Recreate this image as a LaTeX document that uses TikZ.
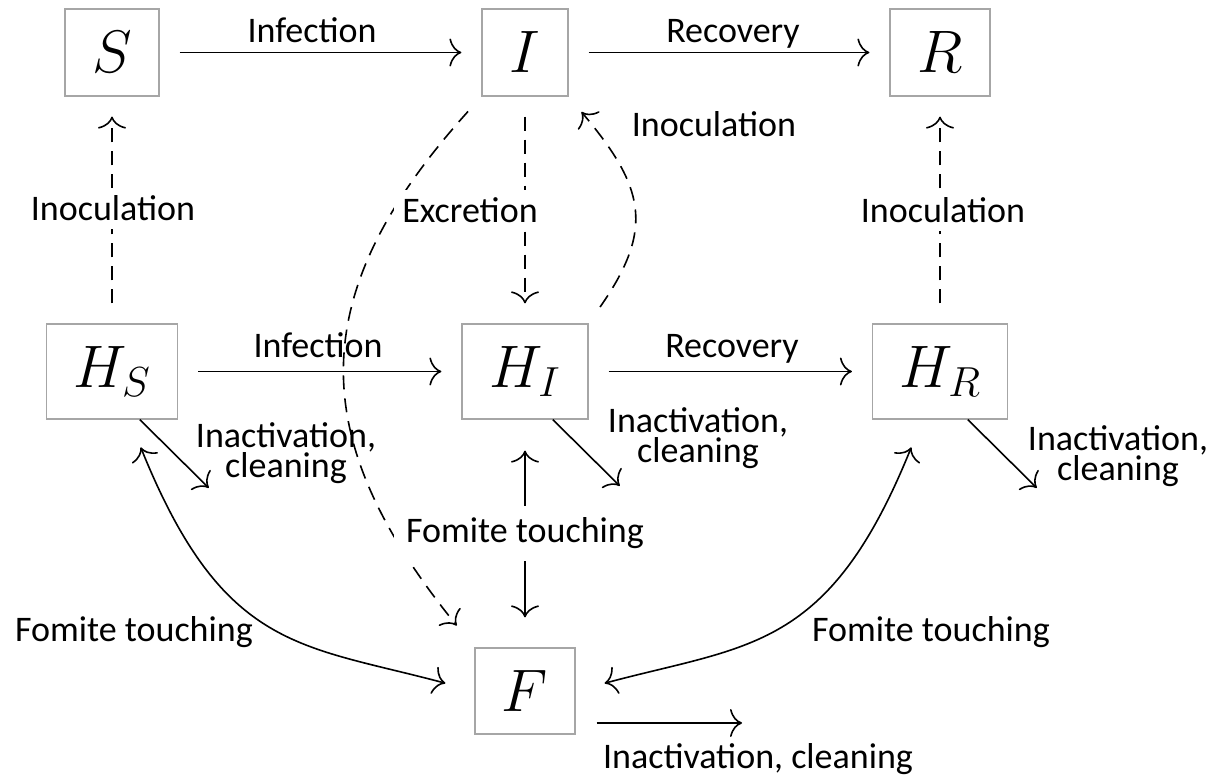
\documentclass[tikz,border=0pt]{standalone}
\usepackage{fix-cm}
\usepackage{fontspec}
\setmainfont{Carlito}
\usetikzlibrary{arrows.meta}
\tikzset{
  box/.style={draw=black!35, line width=1.2pt, inner sep=0pt, font=\fontsize{60}{60}\selectfont},
  tipc/.tip={To[length=12pt,width=28pt]},
  arr/.style={line width=1.6pt, -tipc, shorten >=20pt, shorten <=20pt},
  dbl/.style={line width=1.6pt, tipc-tipc},
  dsh/.style={dash pattern=on 14pt off 9pt},
  lab/.style={font=\fontsize{36}{29}\selectfont, inner sep=0pt, align=center},
  wlab/.style={lab, fill=white, inner sep=8pt},
}
\begin{document}
\begin{tikzpicture}[x=1pt,y=1pt]
\useasboundingbox (0,0) rectangle (1220,778);
% boxes
\node[box, minimum width=94pt, minimum height=87pt] (S) at (112,725.5) {$S$};
\node[box, minimum width=86pt, minimum height=87pt] (I) at (525,725.5) {$I$};
\node[box, minimum width=100pt, minimum height=87pt] (R) at (940,725.5) {$R$};
\node[box, minimum width=131pt, minimum height=95pt] (HS) at (112,406.5) {$H_S$};
\node[box, minimum width=126pt, minimum height=95pt] (HI) at (525,406.5) {$H_I$};
\node[box, minimum width=135pt, minimum height=95pt] (HR) at (940,406.5) {$H_R$};
\node[box, minimum width=100pt, minimum height=86pt] (F) at (525,87) {$F$};
% free ends
\coordinate (hsx) at (223,276);
\coordinate (hix) at (634,278);
\coordinate (hrx) at (1051,276);
\coordinate (fx) at (742,55);
% solid arrows
\draw[arr] (S) -- (I);
\draw[arr] (I) -- (R);
\draw[arr] (HS) -- (HI);
\draw[arr] (HI) -- (HR);
\draw[arr, shorten <=0pt] (HS.-60) -- (hsx);
\draw[arr, shorten <=0pt] (HI.-60) -- (hix);
\draw[arr, shorten <=0pt] (HR.-60) -- (hrx);
\draw[arr, shorten <=21pt, shorten >=0pt] (F.east |- fx) -- (fx);
% dashed arrows
\draw[arr, dsh] (HS) -- (S);
\draw[arr, dsh] (I) -- (HI);
\draw[arr, dsh] (HR) -- (R);
\draw[arr, dsh] (HI.north east) .. controls +(55:117) and +(-50:117) .. (I.south east);
\draw[arr, dsh, shorten >=28pt] (I.south west) .. controls +(228:268) and +(129:268) .. (F.north west);
% fomite touching
\draw[dbl, shorten <=30pt, shorten >=30pt] (HS.-70) .. controls +(-68:250) and +(165:180) .. (F.west);
\draw[dbl, shorten <=30pt, shorten >=30pt] (HR.-110) .. controls +(-112:250) and +(15:180) .. (F.east);
\draw[dbl, shorten <=31pt, shorten >=30pt] (HI) -- (F);
% labels
\node[lab, anchor=base] (l1) at (312,735) {Infection};
\node[lab, anchor=base] (l2) at (733,735) {Recovery};
\node[wlab, anchor=base] (l3) at (113,557) {Inoculation};
\node[wlab, anchor=base] (l4) at (470,555) {Excretion};
\node[wlab, anchor=base] (l5) at (943,555) {Inoculation};
\node[lab, anchor=base] (l6) at (714,641) {Inoculation};
\node[lab, anchor=base] (l7) at (318,420) {Infection};
\node[lab, anchor=base] (l8) at (732,420) {Recovery};
\node[lab, anchor=north] (l9) at (286,356) {Inactivation,\\cleaning};
\node[lab, anchor=north] (l10) at (698,371) {Inactivation,\\cleaning};
\node[lab, anchor=north] (l11) at (1118,353) {Inactivation,\\cleaning};
\node[lab, anchor=base] (l12) at (134,136) {Fomite touching};
\node[wlab, anchor=base, inner sep=12pt] (l13) at (525,235) {Fomite touching};
\node[lab, anchor=base] (l14) at (931,136) {Fomite touching};
\node[lab, anchor=base] (l15) at (758,9) {Inactivation, cleaning};
\end{tikzpicture}
\end{document}
